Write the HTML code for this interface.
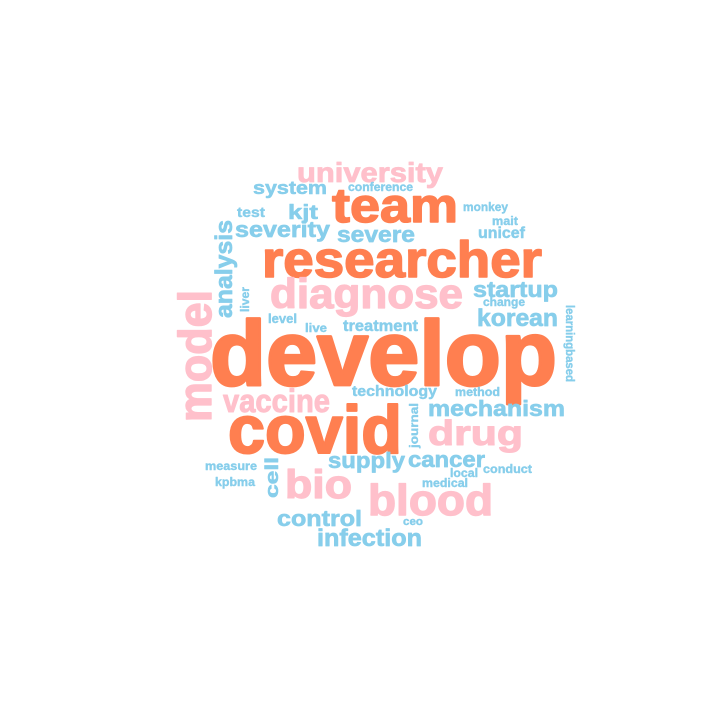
<!DOCTYPE html>
<html><head><meta charset="utf-8">
<style>
html,body{margin:0;padding:0;background:#fff;}
svg{display:block;}
text{font-family:"Liberation Sans","DejaVu Sans",sans-serif;font-weight:bold;}
</style></head>
<body>
<svg id="cloud" width="720" height="720" viewBox="0 0 720 720" xmlns="http://www.w3.org/2000/svg">
<rect width="720" height="720" fill="#ffffff"/>
</svg>
<script>
const words = ["develop","researcher","covid","team","diagnose","university","blood","bio","drug","vaccine","model","analysis","system","conference","test","kjt","monkey","mait","severity","severe","unicef","startup","change","korean","level","live","treatment","liver","learningbased","technology","method","mechanism","journal","measure","cell","supply","cancer","local","conduct","kpbma","medical","control","ceo","infection"];
const sizes = [92,51,68,48,42,28,44,40,35,32,46,24,18,12,14,20,12,12,22,22,16,22,12,24,13,12,16,12,12,15,12,22,12,12,18,22,22,12,12,12,12,22,11,24];
const colorGroup = ["o","o","o","o","p","p","p","p","p","p","p","b","b","b","b","b","b","b","b","b","b","b","b","b","b","b","b","b","b","b","b","b","b","b","b","b","b","b","b","b","b","b","b","b"];
// layout: [x, baseline y, length, rotation]
const layout = [
[210,385,347,0],[262,277,280,0],[228,453,174,0],[332,222,126,0],[270,308,193,0],
[297,182,146,0],[368,515,125,0],[285,498,67,0],[428,445,95,0],[223,412,107,0],
[211,422,132,-90],[232,318,98,-90],[253,194,74,0],[348,191,65,0],[237,217,28,0],
[288,219,30,0],[463,211,45,0],[492,225,26,0],[235,237,95,0],[337,242,78,0],
[478,238,47,0],[473,297,85,0],[483,306,42,0],[477,326,81,0],[268,323,29,0],
[305,332,22,0],[343,331,75,0],[249,312,25,-90],[566,305,77,90],[352,396,85,0],
[455,396,45,0],[428,416,137,0],[418,448,45,-90],[205,470,52,0],[278,498,41,-90],
[328,468,77,0],[408,467,77,0],[450,477,28,0],[483,473,49,0],[215,486,40,0],
[422,487,46,0],[277,526,85,0],[403,525,20,0],[317,546,105,0]
];
const palette = {o:"#FF7F50",p:"#FFC0CB",b:"#87CEEB"};
const svg = document.getElementById('cloud');
const NS = "http://www.w3.org/2000/svg";
words.forEach((w,i)=>{
  const [x,y,len,rot] = layout[i];
  const t = document.createElementNS(NS,'text');
  
  
  t.setAttribute('x', 0);
  t.setAttribute('y', 0);
  t.setAttribute('transform', 'translate(' + x + ',' + y + ') rotate(' + rot + ')');
  t.setAttribute('font-size', sizes[i]);
  t.setAttribute('fill', palette[colorGroup[i]]);
  t.setAttribute('stroke', palette[colorGroup[i]]);
  t.setAttribute('stroke-width', Math.max(0.4, sizes[i] * 0.03));
  t.setAttribute('stroke-linejoin', 'round');
  t.setAttribute('textLength', len);
  t.setAttribute('lengthAdjust', 'spacingAndGlyphs');
  t.textContent = w;
  svg.appendChild(t);
});
</script>
</body></html>
